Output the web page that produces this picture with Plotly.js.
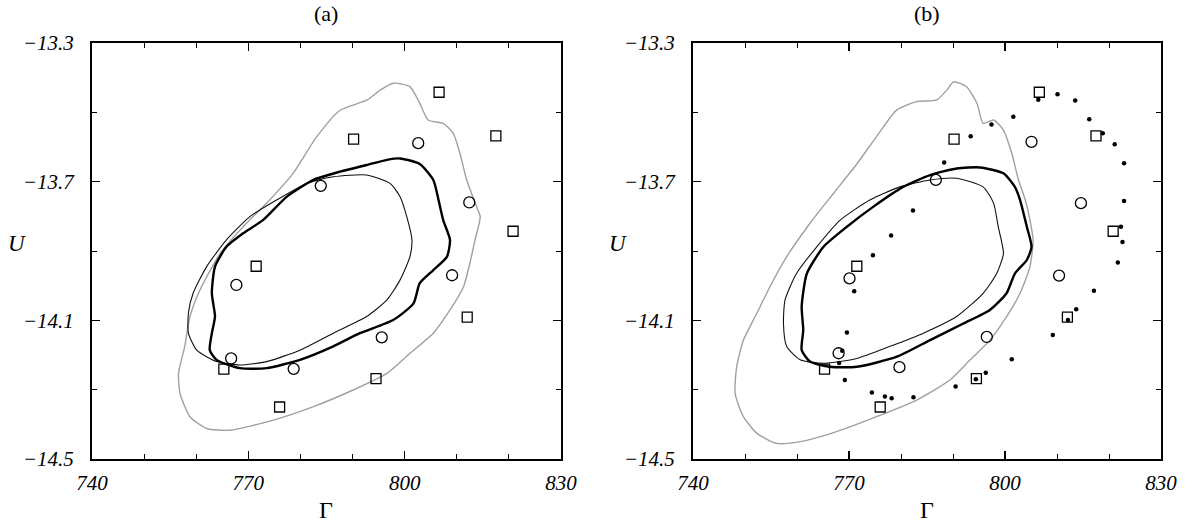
<!DOCTYPE html>
<html>
<head>
<meta charset="utf-8">
<script src="https://cdn.plot.ly/plotly-3.0.1.min.js"></script>
<style>html,body{margin:0;padding:0;background:#fff;}#chart{width:1195px;height:524px;}</style>
</head>
<body>
<div id="chart"></div>
<script>
// ---------- Panel (a) data ----------
const aOuterX = [797.8,801.0,802.9,804.5,807.4,809.3,810.6,811.9,813.8,814.5,813.5,812.5,811.3,808.7,805.5,801.0,796.6,790.1,782.5,774.8,766.5,762.0,758.8,756.9,756.6,757.8,758.8,760.7,764.6,769.0,773.5,778.6,783.1,787.6,792.7,795.3,797.8];
const aOuterY = [-13.416,-13.426,-13.474,-13.522,-13.532,-13.560,-13.618,-13.695,-13.772,-13.801,-13.868,-13.936,-14.003,-14.070,-14.137,-14.195,-14.253,-14.301,-14.349,-14.388,-14.417,-14.412,-14.378,-14.311,-14.253,-14.175,-14.089,-14.013,-13.907,-13.830,-13.762,-13.676,-13.571,-13.494,-13.465,-13.436,-13.416];

const aThinX = [792.7,797.2,799.1,800.4,801.4,801.0,799.1,796.6,792.7,786.3,779.9,773.5,768.4,763.9,760.1,758.5,758.5,759.4,762.0,765.8,770.3,775.4,781.2,786.3,792.7];
const aThinY = [-13.681,-13.705,-13.743,-13.801,-13.868,-13.917,-13.984,-14.041,-14.089,-14.137,-14.186,-14.219,-14.229,-14.219,-14.186,-14.137,-14.079,-14.022,-13.945,-13.868,-13.801,-13.753,-13.705,-13.686,-13.681];

const aThickX = [799.1,802.9,805.5,806.5,807.4,808.7,808.1,805.5,802.9,801.7,797.8,791.4,786.3,779.9,773.5,768.4,763.9,762.6,763.0,763.6,763.0,763.6,765.8,769.0,772.8,777.4,782.5,787.6,792.7,796.6,799.1];
const aThickY = [-13.633,-13.649,-13.695,-13.753,-13.811,-13.868,-13.917,-13.955,-13.993,-14.051,-14.099,-14.137,-14.175,-14.214,-14.238,-14.238,-14.214,-14.186,-14.137,-14.089,-14.022,-13.945,-13.888,-13.849,-13.811,-13.743,-13.695,-13.671,-13.652,-13.637,-13.633];

const squaresX = [806.6,790.2,817.5,820.8,771.5,812.0,765.3,794.5,776.0];
const squaresY = [-13.442,-13.577,-13.568,-13.843,-13.944,-14.091,-14.241,-14.268,-14.350];

const aCirclesX = [802.6,783.9,812.4,767.7,809.1,795.6,766.7,778.7];
const aCirclesY = [-13.589,-13.712,-13.760,-13.998,-13.970,-14.149,-14.210,-14.240];

// ---------- Panel (b) data ----------
const bOuterX = [790.1,792.6,794.6,795.8,797.8,799.7,801.3,802.6,803.9,804.8,805.4,804.8,802.9,800.3,797.1,793.3,789.4,783.0,775.3,767.6,760.6,756.1,752.3,749.7,748.1,748.4,749.7,752.3,754.8,758.0,762.5,767.0,771.5,775.3,779.2,783.0,786.9,788.8,790.1];
const bOuterY = [-13.412,-13.426,-13.474,-13.532,-13.522,-13.551,-13.618,-13.695,-13.753,-13.811,-13.868,-13.945,-14.022,-14.089,-14.157,-14.214,-14.272,-14.330,-14.378,-14.421,-14.450,-14.455,-14.426,-14.378,-14.311,-14.234,-14.157,-14.079,-14.003,-13.917,-13.820,-13.734,-13.649,-13.570,-13.493,-13.469,-13.464,-13.436,-13.412];

const bThinX = [790.7,795.8,797.8,798.7,799.7,798.4,795.8,790.7,784.3,777.9,771.5,765.1,760.6,758.0,757.4,757.7,759.9,763.8,768.3,774.0,779.8,785.6,790.7];
const bThinY = [-13.690,-13.715,-13.762,-13.830,-13.907,-13.965,-14.022,-14.089,-14.137,-14.175,-14.210,-14.224,-14.214,-14.175,-14.109,-14.041,-13.965,-13.888,-13.811,-13.753,-13.715,-13.695,-13.690];

const bThickX = [795.2,799.7,801.9,802.9,804.2,805.1,804.2,801.9,800.3,797.1,792.0,785.6,779.2,771.5,766.3,762.5,760.9,761.2,760.9,761.9,765.1,769.6,774.7,780.4,785.6,790.7,795.2];
const bThickY = [-13.659,-13.676,-13.715,-13.753,-13.830,-13.888,-13.926,-13.965,-14.022,-14.070,-14.109,-14.157,-14.205,-14.234,-14.234,-14.219,-14.186,-14.128,-14.060,-13.965,-13.888,-13.830,-13.772,-13.715,-13.681,-13.662,-13.659];

const bCirclesX = [805.1,786.7,814.6,770.1,810.4,796.5,768.0,779.7];
const bCirclesY = [-13.585,-13.695,-13.762,-13.979,-13.971,-14.148,-14.195,-14.235];

const bDotsX = [806.4,810.1,813.5,816.2,818.8,821.1,822.9,822.9,822.3,822.6,821.7,817.1,813.7,812.1,809.2,801.3,796.3,794.4,790.5,782.4,778.2,776.9,774.4,769.2,768.1,768.7,769.6,771.0,774.6,778.1,782.3,788.3,793.4,797.4,801.6];
const bDotsY = [-13.464,-13.448,-13.466,-13.520,-13.560,-13.592,-13.647,-13.756,-13.830,-13.874,-13.933,-14.015,-14.068,-14.099,-14.142,-14.212,-14.251,-14.270,-14.291,-14.322,-14.325,-14.320,-14.308,-14.272,-14.223,-14.188,-14.135,-14.016,-13.912,-13.855,-13.783,-13.645,-13.569,-13.535,-13.513];

// tick labels
const xTickVals = [740,770,800,830];
const yTickVals = [-13.3,-13.7,-14.1,-14.5];
const yTickText = ['\u221213.3','\u221213.7','\u221214.1','\u221214.5'];
const panelTitles = ['(a)','(b)'];

const W = 1195, H = 524;
const serif = 'Liberation Serif, Times New Roman, serif';

function line(x, y, xa, ya, color, width, dash){
  return {x:x, y:y, xaxis:xa, yaxis:ya, type:'scatter', mode:'lines',
          line:{color:color, width:width, shape:'spline', smoothing:0.6, dash: dash || 'solid'}, hoverinfo:'skip'};
}
function markers(x, y, xa, ya, symbol, size, filled){
  return {x:x, y:y, xaxis:xa, yaxis:ya, type:'scatter', mode:'markers',
          marker:{symbol:symbol, size:size, color:'#000',
                  line:{color:'#000', width: filled ? 0 : 1.3}}, hoverinfo:'skip'};
}

const traces = [
  line(aOuterX, aOuterY, 'x', 'y', '#a0a0a0', 1.4),
  line(aThinX, aThinY, 'x', 'y', '#111', 1.1),
  line(aThickX, aThickY, 'x', 'y', '#000', 2.4),
  markers(squaresX, squaresY, 'x', 'y', 'square-open', 10, false),
  markers(aCirclesX, aCirclesY, 'x', 'y', 'circle-open', 11, false),
  line(bOuterX, bOuterY, 'x2', 'y2', '#a0a0a0', 1.4),
  line(bThinX, bThinY, 'x2', 'y2', '#111', 1.1),
  line(bThickX, bThickY, 'x2', 'y2', '#000', 2.4),
  markers(squaresX, squaresY, 'x2', 'y2', 'square-open', 10, false),
  markers(bCirclesX, bCirclesY, 'x2', 'y2', 'circle-open', 11, false),
  markers(bDotsX, bDotsY, 'x2', 'y2', 'circle', 4.5, true)
];

const tickFont = {family: serif, size: 21, color:'#000', style:'italic'};

function xAxis(domain, anchor){
  return {domain:domain, anchor:anchor, range:[740,830], tickmode:'array', tickvals:xTickVals,
          ticks:'inside', ticklen:8, tickwidth:1.5, tickcolor:'#000',
          minor:{tickmode:'linear', tick0:740, dtick:10, ticks:'inside', ticklen:5, tickwidth:1, tickcolor:'#000'},
          showline:true, linecolor:'#000', linewidth:2, mirror:'allticks',
          showgrid:false, zeroline:false, tickfont:tickFont, ticklabelstandoff:4, fixedrange:true};
}
function yAxis(domain, anchor){
  return {domain:domain, anchor:anchor, range:[-14.5,-13.3], tickmode:'array', tickvals:yTickVals, ticktext:yTickText,
          ticks:'inside', ticklen:8, tickwidth:1.5, tickcolor:'#000',
          minor:{tickmode:'linear', tick0:-13.3, dtick:0.2, ticks:'inside', ticklen:5, tickwidth:1, tickcolor:'#000'},
          showline:true, linecolor:'#000', linewidth:2, mirror:'allticks',
          showgrid:false, zeroline:false, tickfont:tickFont, ticklabelstandoff:12, fixedrange:true};
}

const yDom = [1 - 459/H, 1 - 43/H];
function ann(text, px, py, size, italic){
  return {text:text, x:px/W, y:1-py/H, xref:'paper', yref:'paper', xanchor:'center', yanchor:'middle',
          showarrow:false, font:{family:serif, size:size, color:'#000', style: italic ? 'italic' : 'normal'}};
}
const layout = {
  width: W, height: H,
  margin:{l:0, r:0, t:0, b:0},
  paper_bgcolor:'#fff', plot_bgcolor:'#fff',
  showlegend:false,
  xaxis: xAxis([92/W, 561/W], 'y'),
  yaxis: yAxis(yDom, 'x'),
  xaxis2: xAxis([693/W, 1161/W], 'y2'),
  yaxis2: yAxis(yDom, 'x2'),
  annotations: [
    ann(panelTitles[0], 326, 13, 22, false),
    ann(panelTitles[1], 927, 13, 22, false),
    ann('U', 17, 243, 23, true),
    ann('U', 618, 243, 23, true),
    ann('\u0393', 326, 510, 24, false),
    ann('\u0393', 927, 510, 24, false)
  ]
};

Plotly.newPlot('chart', traces, layout, {staticPlot:true, displayModeBar:false});
</script>
</body>
</html>
